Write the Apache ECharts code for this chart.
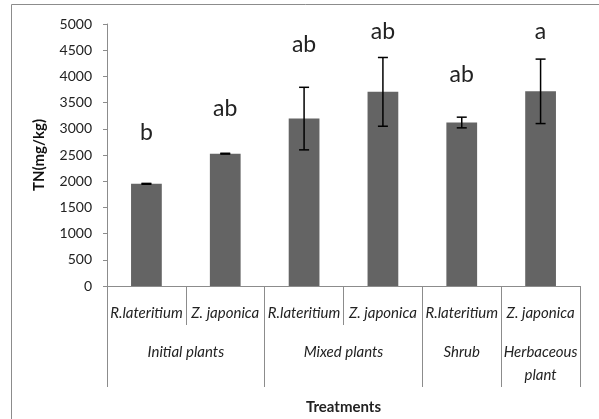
<!DOCTYPE html>
<html><head><meta charset="utf-8">
<script src="https://cdn.jsdelivr.net/npm/echarts@6/dist/echarts.min.js"></script>
<style>html,body{margin:0;padding:0;background:#fff}#c{width:599px;height:419px}</style>
</head><body><div id="c"></div>
<script>
var species = ['R.lateritium', 'Z. japonica', 'R.lateritium', 'Z. japonica', 'R.lateritium', 'Z. japonica'];
var groupNames = ['Initial plants', 'Mixed plants', 'Shrub', 'Herbaceous\nplant'];
var groupFrom = [0, 2, 4, 5];
var groupTo = [1, 3, 4, 5];
var tnValues = [1950, 2525, 3195, 3705, 3120, 3715];
var tnErrors = [8, 8, 597, 656, 102, 615];
var letters = ['b', 'ab', 'ab', 'ab', 'ab', 'a'];
var letterY = [2920, 3380, 4600, 4850, 4030, 4850];
var yTicks = [0, 500, 1000, 1500, 2000, 2500, 3000, 3500, 4000, 4500, 5000];

var FONT = 'Lato, "Open Sans", sans-serif';
var groupStarts = groupFrom.concat([species.length]);

var chart = echarts.init(document.getElementById('c'), null, {renderer: 'canvas'});
var option = {
  animation: false,
  backgroundColor: '#fff',
  grid: {left: 107, right: 19, top: 24, bottom: 133, containLabel: false, outerBoundsMode: 'none'},
  xAxis: [{
    type: 'category', data: species, position: 'bottom',
    axisLine: {show: true, lineStyle: {color: '#8c8c8c', width: 1}},
    axisTick: {show: true, length: 39, lineStyle: {color: '#8c8c8c'}},
    axisLabel: {margin: 20, fontFamily: FONT, fontStyle: 'italic', fontSize: 15, color: '#222', interval: 0}
  }, {
    type: 'category', data: species, position: 'bottom',
    axisLine: {show: false},
    axisTick: {show: true, length: 101, lineStyle: {color: '#8c8c8c'},
      interval: function (i) { return groupStarts.indexOf(i) >= 0; }},
    axisLabel: {show: false},
    name: 'Treatments', nameLocation: 'middle', nameGap: 114,
    nameTextStyle: {fontFamily: FONT, fontWeight: 'bold', fontSize: 15, color: '#222'}
  }],
  yAxis: {
    type: 'value', min: 0, max: 5000, interval: 500,
    axisLine: {show: true, lineStyle: {color: '#8c8c8c'}},
    axisTick: {show: true, length: 4, lineStyle: {color: '#8c8c8c'}},
    splitLine: {show: false},
    axisLabel: {margin: 15, fontFamily: FONT, fontSize: 14, color: '#222',
      formatter: function (v) { return yTicks.indexOf(v) >= 0 ? String(v) : ''; }},
    name: 'TN(mg/kg)', nameLocation: 'middle', nameGap: 60, nameRotate: 90,
    nameTextStyle: {fontFamily: FONT, fontWeight: 'bold', fontSize: 15, color: '#111'}
  },
  series: [{
    type: 'bar', data: tnValues, barWidth: '39%',
    itemStyle: {color: '#646464'}
  }, {
    type: 'custom',
    data: tnValues.map(function (v, i) { return [i, v - tnErrors[i], v + tnErrors[i]]; }),
    renderItem: function (params, api) {
      var lo = api.coord([api.value(0), api.value(1)]);
      var hi = api.coord([api.value(0), api.value(2)]);
      var w = 5;
      var st = {stroke: '#000', lineWidth: 1.5};
      return {type: 'group', children: [
        {type: 'line', shape: {x1: hi[0], y1: hi[1], x2: lo[0], y2: lo[1]}, style: st},
        {type: 'line', shape: {x1: hi[0] - w, y1: hi[1], x2: hi[0] + w, y2: hi[1]}, style: st},
        {type: 'line', shape: {x1: lo[0] - w, y1: lo[1], x2: lo[0] + w, y2: lo[1]}, style: st}
      ]};
    },
    z: 5
  }, {
    type: 'custom',
    data: letterY.map(function (v, i) { return [i, v, letters[i]]; }),
    renderItem: function (params, api) {
      var p = api.coord([api.value(0), api.value(1)]);
      return {type: 'text', style: {x: p[0], y: p[1], text: letters[params.dataIndex],
        textAlign: 'center', textVerticalAlign: 'middle',
        font: '23px Lato, "Open Sans", sans-serif', fill: '#222'}};
    },
    z: 6
  }]
};
chart.setOption(option);

function placeGroups() {
  var gy = chart.convertToPixel({yAxisIndex: 0}, 0);
  var elems = [{
    type: 'rect', shape: {x: 11.5, y: 4.5, width: 800, height: 600},
    style: {fill: 'none', stroke: '#8c8c8c', lineWidth: 1}, silent: true, z: -1
  }];
  groupNames.forEach(function (name, i) {
    var x0 = chart.convertToPixel({xAxisIndex: 0}, groupFrom[i]);
    var x1 = chart.convertToPixel({xAxisIndex: 0}, groupTo[i]);
    elems.push({
      type: 'text', x: (x0 + x1) / 2, y: gy + 55,
      style: {text: name, textAlign: 'center', textVerticalAlign: 'top',
        font: 'italic 15px Lato, "Open Sans", sans-serif', fill: '#222', lineHeight: 23}
    });
  });
  chart.setOption({graphic: {elements: elems}});
}
placeGroups();
</script>
</body></html>
